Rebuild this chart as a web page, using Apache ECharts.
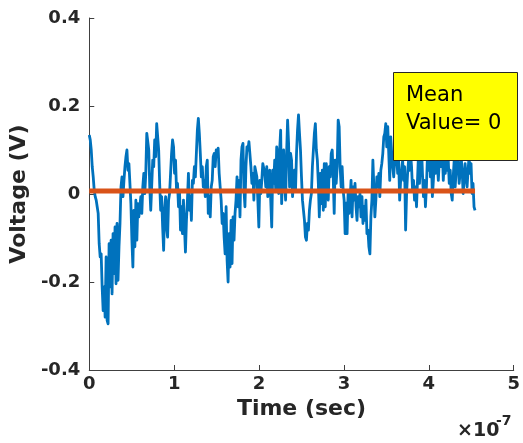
<!DOCTYPE html>
<html>
<head>
<meta charset="utf-8">
<script src="https://cdn.jsdelivr.net/npm/echarts@6/dist/echarts.min.js"></script>
<style>
html,body{margin:0;padding:0;background:#fff;}
#c{width:523px;height:443px;}
</style>
</head>
<body>
<div id="c"></div>
<script>
// Measured voltage samples (V), evenly spaced in time from 0 to T_END
const voltage = [
0.134,0.123,0.100,0.062,0.039,0.009,-0.006,-0.014,-0.029,-0.044,-0.113,-0.143,-0.136,-0.211,-0.265,-0.211,-0.280,-0.143,-0.287,-0.295,
-0.113,-0.211,-0.105,-0.227,-0.090,-0.181,-0.075,-0.204,-0.067,-0.196,-0.120,-0.067,0.016,0.039,-0.006,0.031,0.062,0.085,0.100,0.054,
0.069,0.024,-0.022,-0.105,-0.166,-0.037,-0.120,-0.014,-0.105,-0.022,-0.052,-0.029,-0.006,-0.044,0.016,0.047,0.001,0.047,0.138,0.142,
0.100,0.016,-0.037,
-0.037,0.077,0.062,0.123,0.085,0.160,0.164,0.100,0.024,-0.037,-0.006,-0.075,-0.128,-0.037,-0.006,-0.075,-0.098,-0.014,0.001,0.047,
0.092,0.123,0.107,0.047,0.077,0.009,0.024,-0.029,0.009,-0.082,-0.029,-0.090,-0.014,-0.075,-0.132,-0.060,-0.014,0.047,-0.037,-0.006,
-0.060,0.031,0.024,0.062,0.039,0.092,0.145,0.172,0.138,0.092,0.039,0.062,0.016,0.031,-0.006,0.062,0.077,-0.044,-0.006,-0.052,
0.016,0.031,0.085,0.092,
0.062,0.100,0.085,0.104,0.047,0.016,-0.014,-0.067,-0.044,-0.098,-0.136,-0.029,-0.151,-0.200,-0.090,-0.166,-0.060,-0.158,-0.052,-0.105,
-0.044,-0.014,0.039,-0.029,0.031,-0.052,0.077,0.107,0.115,0.009,-0.029,0.062,0.107,0.100,0.119,0.123,0.062,0.024,0.047,-0.014,
0.062,0.062,0.039,-0.014,-0.075,0.031,0.001,0.031,0.069,0.073,0.047,0.016,0.062,-0.006,0.031,0.054,-0.014,-0.075,0.054,0.024,
0.077,0.009,0.107,0.085,
0.001,0.100,0.145,-0.022,0.047,0.100,0.024,-0.014,0.092,0.168,0.115,0.016,0.092,0.077,-0.006,0.031,0.054,0.009,0.092,0.145,
0.180,0.138,0.100,0.039,-0.014,-0.037,-0.060,-0.098,-0.105,-0.067,-0.082,-0.037,-0.014,0.001,0.062,0.100,0.138,0.160,0.100,0.077,
0.024,-0.052,0.047,-0.022,0.054,-0.037,0.069,-0.029,0.069,0.031,-0.014,0.062,0.039,0.092,0.100,0.039,-0.044,0.077,0.024,0.062,
0.168,0.153,0.062,0.016,
0.062,0.009,-0.014,-0.090,-0.021,-0.090,0.001,-0.044,-0.014,0.031,-0.052,0.016,-0.014,0.024,-0.029,-0.060,-0.006,-0.029,0.001,-0.052,
-0.006,-0.067,-0.029,-0.060,-0.014,-0.090,-0.082,-0.120,-0.136,-0.052,-0.014,0.077,0.016,-0.052,-0.014,0.039,0.016,0.047,-0.006,0.054,
0.069,0.092,0.130,0.138,0.160,0.107,0.153,0.092,0.031,0.130,0.092,0.062,0.039,0.077,0.107,0.085,0.047,0.077,-0.014,0.031,
0.054,0.077,0.031,0.062,
-0.082,0.001,0.047,0.077,0.054,0.092,0.062,0.009,0.031,-0.014,0.016,-0.029,0.031,0.092,0.024,0.077,0.107,0.047,-0.006,0.031,
-0.029,0.016,0.085,0.054,0.107,0.039,0.085,-0.006,0.031,0.077,0.047,0.100,0.069,0.031,0.077,0.092,0.062,0.100,0.031,0.077,
0.047,0.085,0.054,0.077,0.024,0.054,0.001,-0.014,0.039,0.077,0.016,0.054,0.092,0.069,0.024,0.047,0.085,0.054,0.001,0.031,
0.069,0.039,0.016,0.054,0.085,0.047,0.069,0.001,0.024,-0.029,-0.037
];
const T_START = 0;          // s
const T_END = 4.544e-7;     // s
const meanValue = 0.007;    // V (displayed mean line level)
const meanLabel = ['Mean', 'Value= 0'];
const xTicks = [0, 1, 2, 3, 4, 5];   // ×10^-7 s
const yTicks = [-0.4, -0.2, 0, 0.2, 0.4];

const dt = (T_END - T_START) / (voltage.length - 1);
const signal = voltage.map((v, i) => [T_START + i * dt, v]);
const meanLine = [[T_START, meanValue], [T_END, meanValue]];

const FONT = 'DejaVu Sans';
const AX = '#262626';

const chart = echarts.init(document.getElementById('c'), null, {renderer: 'canvas'});
chart.setOption({
  animation: false,
  backgroundColor: '#ffffff',
  grid: {left: 89, top: 18, width: 428, height: 352, containLabel: false},
  xAxis: {
    type: 'value',
    min: xTicks[0] * 1e-7, max: xTicks[xTicks.length - 1] * 1e-7, interval: 1e-7,
    name: 'Time (sec)', nameLocation: 'middle', nameGap: 23,
    nameTextStyle: {fontFamily: FONT, fontWeight: 'bold', fontSize: 22, color: AX},
    axisLine: {show: true, onZero: false, lineStyle: {color: '#404040', width: 1}},
    axisTick: {show: true, inside: true, length: 5, lineStyle: {color: '#404040'}},
    splitLine: {show: false},
    axisLabel: {
      fontFamily: FONT, fontWeight: 'bold', fontSize: 18, color: AX, margin: 5,
      formatter: v => String(Math.round(v * 1e7))
    }
  },
  yAxis: {
    type: 'value',
    min: yTicks[0], max: yTicks[yTicks.length - 1], interval: 0.2,
    name: 'Voltage (V)', nameLocation: 'middle', nameGap: 53, nameRotate: 90,
    nameTextStyle: {fontFamily: FONT, fontWeight: 'bold', fontSize: 22, color: AX},
    axisLine: {show: true, onZero: false, lineStyle: {color: '#404040', width: 1}},
    axisTick: {show: true, inside: true, length: 5, lineStyle: {color: '#404040'}},
    splitLine: {show: false},
    axisLabel: {
      fontFamily: FONT, fontWeight: 'bold', fontSize: 18, color: AX, margin: 9,
      formatter: v => Math.abs(v) < 1e-9 ? '0' : v.toFixed(1)
    }
  },
  series: [
    {
      type: 'line', data: signal, showSymbol: false, symbol: 'none', sampling: null,
      lineStyle: {color: '#0072BD', width: 2.8, join: 'round'}, z: 2
    },
    {
      type: 'line', data: meanLine, showSymbol: false, symbol: 'none',
      lineStyle: {color: '#D95319', width: 5}, z: 3
    }
  ],
  graphic: [
    {
      type: 'rect', z: 100,
      shape: {x: 393.5, y: 72.5, width: 124, height: 88},
      style: {fill: '#FFFF00', stroke: '#262626', lineWidth: 1}
    },
    {
      type: 'text', z: 101, x: 406, y: 96,
      style: {text: meanLabel[0], font: '21px "DejaVu Sans"', fill: '#000', verticalAlign: 'middle', align: 'left'}
    },
    {
      type: 'text', z: 101, x: 406, y: 124,
      style: {text: meanLabel[1], font: '21px "DejaVu Sans"', fill: '#000', verticalAlign: 'middle', align: 'left'}
    },
    {
      type: 'text', z: 101, x: 457, y: 431,
      style: {text: '×10', font: 'bold 19px "DejaVu Sans"', fill: AX, verticalAlign: 'middle', align: 'left'}
    },
    {
      type: 'text', z: 101, x: 496, y: 421,
      style: {text: '-7', font: 'bold 14px "DejaVu Sans"', fill: AX, verticalAlign: 'middle', align: 'left'}
    }
  ]
});
</script>
</body>
</html>
